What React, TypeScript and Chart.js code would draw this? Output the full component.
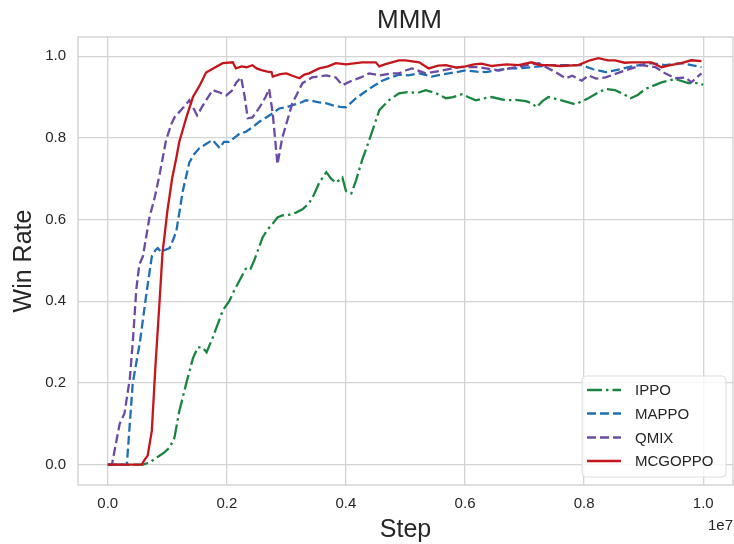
import React, { useEffect, useRef } from "react";
import { Chart, registerables } from "chart.js";

Chart.register(...registerables);

// Steps are in units of 1e7 (as displayed on the axis)
const ippoSteps = [0, 0.059, 0.07, 0.082, 0.095, 0.104, 0.112, 0.12, 0.132, 0.143, 0.151, 0.159, 0.166, 0.176, 0.185, 0.193, 0.204, 0.212, 0.221, 0.233, 0.24, 0.246, 0.26, 0.268, 0.277, 0.285, 0.293, 0.305, 0.316, 0.327, 0.338, 0.346, 0.355, 0.367, 0.375, 0.383, 0.394, 0.4, 0.409, 0.417, 0.427, 0.439, 0.456, 0.472, 0.489, 0.503, 0.52, 0.534, 0.55, 0.568, 0.58, 0.595, 0.605, 0.618, 0.632, 0.645, 0.668, 0.685, 0.702, 0.712, 0.72, 0.73, 0.74, 0.762, 0.785, 0.807, 0.82, 0.836, 0.852, 0.865, 0.878, 0.89, 0.903, 0.93, 0.953, 0.975, 0.992, 1.0];
const ippoWin = [0, 0, 0.005, 0.017, 0.03, 0.042, 0.066, 0.13, 0.2, 0.26, 0.287, 0.287, 0.275, 0.31, 0.345, 0.377, 0.4, 0.425, 0.45, 0.483, 0.48, 0.5, 0.556, 0.575, 0.59, 0.605, 0.61, 0.612, 0.617, 0.625, 0.64, 0.66, 0.69, 0.716, 0.7, 0.69, 0.703, 0.67, 0.664, 0.696, 0.745, 0.794, 0.868, 0.892, 0.909, 0.912, 0.91, 0.917, 0.91, 0.897, 0.9, 0.907, 0.9, 0.892, 0.897, 0.9, 0.892, 0.893, 0.89, 0.885, 0.875, 0.89, 0.9, 0.892, 0.882, 0.897, 0.908, 0.92, 0.917, 0.908, 0.897, 0.905, 0.92, 0.936, 0.944, 0.934, 0.934, 0.93];

const mappoSteps = [0, 0.032, 0.042, 0.054, 0.065, 0.074, 0.08, 0.084, 0.09, 0.095, 0.104, 0.115, 0.126, 0.137, 0.145, 0.154, 0.165, 0.176, 0.188, 0.195, 0.204, 0.221, 0.232, 0.243, 0.255, 0.266, 0.277, 0.288, 0.3, 0.31, 0.322, 0.333, 0.345, 0.355, 0.366, 0.377, 0.39, 0.4, 0.417, 0.439, 0.461, 0.475, 0.489, 0.505, 0.523, 0.544, 0.56, 0.573, 0.59, 0.601, 0.62, 0.635, 0.655, 0.673, 0.69, 0.712, 0.725, 0.74, 0.769, 0.796, 0.815, 0.836, 0.86, 0.88, 0.9, 0.913, 0.936, 0.963, 0.98, 0.997];
const mappoWin = [0, 0, 0.2, 0.3, 0.42, 0.51, 0.525, 0.53, 0.52, 0.525, 0.53, 0.57, 0.67, 0.74, 0.76, 0.775, 0.785, 0.795, 0.775, 0.79, 0.79, 0.81, 0.815, 0.826, 0.84, 0.85, 0.86, 0.872, 0.875, 0.88, 0.885, 0.892, 0.89, 0.887, 0.885, 0.88, 0.876, 0.875, 0.897, 0.92, 0.94, 0.948, 0.955, 0.953, 0.958, 0.95, 0.955, 0.958, 0.962, 0.965, 0.962, 0.961, 0.966, 0.97, 0.97, 0.973, 0.975, 0.978, 0.978, 0.978, 0.968, 0.961, 0.968, 0.975, 0.98, 0.983, 0.978, 0.983, 0.978, 0.973];

const qmixSteps = [0, 0.007, 0.02, 0.028, 0.037, 0.042, 0.048, 0.053, 0.059, 0.07, 0.079, 0.087, 0.098, 0.107, 0.112, 0.126, 0.137, 0.143, 0.15, 0.16, 0.176, 0.19, 0.199, 0.208, 0.216, 0.224, 0.23, 0.235, 0.243, 0.255, 0.265, 0.271, 0.277, 0.285, 0.293, 0.31, 0.327, 0.343, 0.367, 0.383, 0.394, 0.41, 0.425, 0.439, 0.456, 0.477, 0.489, 0.5, 0.511, 0.534, 0.561, 0.59, 0.623, 0.657, 0.685, 0.724, 0.74, 0.752, 0.769, 0.78, 0.796, 0.807, 0.82, 0.836, 0.869, 0.896, 0.92, 0.936, 0.953, 0.97, 0.98, 0.997];
const qmixWin = [0, 0, 0.1, 0.125, 0.21, 0.3, 0.43, 0.49, 0.51, 0.605, 0.655, 0.71, 0.795, 0.835, 0.85, 0.873, 0.892, 0.875, 0.855, 0.88, 0.917, 0.91, 0.904, 0.915, 0.936, 0.948, 0.9, 0.848, 0.85, 0.875, 0.9, 0.92, 0.86, 0.735, 0.8, 0.885, 0.934, 0.948, 0.953, 0.948, 0.929, 0.94, 0.948, 0.958, 0.953, 0.958, 0.958, 0.965, 0.97, 0.958, 0.965, 0.973, 0.973, 0.965, 0.973, 0.983, 0.97, 0.961, 0.946, 0.952, 0.94, 0.953, 0.945, 0.948, 0.965, 0.978, 0.973, 0.958, 0.946, 0.948, 0.936, 0.958];

const mcgoppoSteps = [0, 0.057, 0.062, 0.067, 0.074, 0.08, 0.087, 0.092, 0.095, 0.1, 0.108, 0.115, 0.12, 0.126, 0.132, 0.143, 0.155, 0.165, 0.177, 0.193, 0.21, 0.215, 0.225, 0.233, 0.243, 0.25, 0.258, 0.268, 0.275, 0.277, 0.29, 0.3, 0.31, 0.322, 0.33, 0.338, 0.355, 0.37, 0.383, 0.4, 0.427, 0.45, 0.456, 0.465, 0.477, 0.489, 0.5, 0.523, 0.539, 0.555, 0.568, 0.585, 0.601, 0.615, 0.628, 0.645, 0.657, 0.67, 0.69, 0.712, 0.725, 0.74, 0.76, 0.79, 0.81, 0.824, 0.84, 0.852, 0.868, 0.88, 0.898, 0.913, 0.93, 0.945, 0.963, 0.98, 0.997];
const mcgoppoWin = [0, 0, 0.012, 0.022, 0.083, 0.24, 0.4, 0.52, 0.556, 0.62, 0.7, 0.75, 0.79, 0.82, 0.85, 0.9, 0.93, 0.96, 0.97, 0.983, 0.985, 0.97, 0.975, 0.973, 0.978, 0.97, 0.966, 0.962, 0.961, 0.95, 0.956, 0.958, 0.952, 0.946, 0.955, 0.958, 0.97, 0.975, 0.983, 0.98, 0.985, 0.985, 0.975, 0.98, 0.985, 0.99, 0.99, 0.985, 0.97, 0.977, 0.978, 0.972, 0.975, 0.98, 0.982, 0.976, 0.978, 0.98, 0.978, 0.985, 0.978, 0.978, 0.976, 0.978, 0.99, 0.995, 0.99, 0.99, 0.984, 0.985, 0.985, 0.985, 0.973, 0.978, 0.983, 0.99, 0.988];

const xTickValues = [0, 0.2, 0.4, 0.6, 0.8, 1.0];
const yTickValues = [0, 0.2, 0.4, 0.6, 0.8, 1.0];

const chartTitle = "MMM";
const xTitle = "Step";
const yTitle = "Win Rate";
const xOffsetText = "1e7";

const FONT = "'Liberation Sans', Arial, sans-serif";
const TEXT = "#262626";

const zip = (xs: number[], ys: number[]) => xs.map((x, i) => ({ x, y: ys[i] }));

const decorPlugin = {
  id: "decor",
  beforeDatasetsDraw(chart: any) {
    const { ctx, chartArea } = chart;
    ctx.save();
    ctx.strokeStyle = "#cccccc";
    ctx.lineWidth = 1.25;
    ctx.strokeRect(chartArea.left, chartArea.top, chartArea.right - chartArea.left, chartArea.bottom - chartArea.top);
    ctx.restore();
  },
  afterDraw(chart: any) {
    const { ctx, chartArea } = chart;
    ctx.save();
    // Title
    ctx.fillStyle = TEXT;
    ctx.font = `26px ${FONT}`;
    ctx.textAlign = "center";
    ctx.textBaseline = "alphabetic";
    ctx.fillText(chartTitle, (chartArea.left + chartArea.right) / 2 + 4, 28);
    // Offset text
    ctx.font = `15px ${FONT}`;
    ctx.textAlign = "right";
    ctx.fillText(xOffsetText, 733, 530);

    // Legend
    const bx = 582, by = 376, bw = 144, bh = 101, r = 4;
    ctx.beginPath();
    ctx.moveTo(bx + r, by);
    ctx.lineTo(bx + bw - r, by);
    ctx.quadraticCurveTo(bx + bw, by, bx + bw, by + r);
    ctx.lineTo(bx + bw, by + bh - r);
    ctx.quadraticCurveTo(bx + bw, by + bh, bx + bw - r, by + bh);
    ctx.lineTo(bx + r, by + bh);
    ctx.quadraticCurveTo(bx, by + bh, bx, by + bh - r);
    ctx.lineTo(bx, by + r);
    ctx.quadraticCurveTo(bx, by, bx + r, by);
    ctx.closePath();
    ctx.fillStyle = "rgba(255,255,255,0.8)";
    ctx.fill();
    ctx.strokeStyle = "#dddddd";
    ctx.lineWidth = 1;
    ctx.stroke();

    const rows = [390, 413.5, 437.5, 461];
    chart.data.datasets.forEach((ds: any, i: number) => {
      const y = rows[i];
      ctx.beginPath();
      ctx.setLineDash(ds.borderDash || []);
      ctx.strokeStyle = ds.borderColor;
      ctx.lineWidth = ds.borderWidth;
      ctx.moveTo(587, y);
      ctx.lineTo(621, y);
      ctx.stroke();
      ctx.setLineDash([]);
      ctx.fillStyle = TEXT;
      ctx.font = `15px ${FONT}`;
      ctx.textAlign = "left";
      ctx.textBaseline = "middle";
      ctx.fillText(ds.label, 635, y + 1);
    });
    ctx.restore();
  },
};

export default function App() {
  const ref = useRef<HTMLCanvasElement | null>(null);
  useEffect(() => {
    if (!ref.current) return;
    const lw = 2.3;
    const chart = new Chart(ref.current, {
      type: "line",
      data: {
        datasets: [
          { label: "IPPO", data: zip(ippoSteps, ippoWin), borderColor: "#1a8540", borderDash: [15, 4, 2.5, 4], borderWidth: lw, pointRadius: 0, tension: 0, order: 3 },
          { label: "MAPPO", data: zip(mappoSteps, mappoWin), borderColor: "#1f6fb5", borderDash: [9, 4], borderWidth: lw, pointRadius: 0, tension: 0, order: 2 },
          { label: "QMIX", data: zip(qmixSteps, qmixWin), borderColor: "#6a4ba5", borderDash: [9, 4], borderWidth: lw, pointRadius: 0, tension: 0, order: 1 },
          { label: "MCGOPPO", data: zip(mcgoppoSteps, mcgoppoWin), borderColor: "#c4161c", borderWidth: lw, pointRadius: 0, tension: 0, order: 0 },
        ] as any,
      },
      options: {
        animation: false,
        responsive: false,
        devicePixelRatio: 1,
        layout: { padding: { top: 37, right: 1, left: 0, bottom: 0 } },
        plugins: { legend: { display: false }, tooltip: { enabled: false }, title: { display: false } },
        scales: {
          x: {
            type: "linear",
            min: -0.05,
            max: 1.05,
            afterBuildTicks: (scale: any) => { scale.ticks = xTickValues.map((v) => ({ value: v })); },
            afterFit: (scale: any) => { scale.height = 59; },
            grid: { color: "#d4d4d4", lineWidth: 1.3, drawTicks: false },
            border: { display: false },
            ticks: { color: TEXT, font: { family: FONT, size: 15 }, padding: 10, maxRotation: 0, callback: (v: any) => Number(v).toFixed(1) },
            title: { display: true, text: xTitle, color: TEXT, font: { family: FONT, size: 25, lineHeight: 1 }, padding: { top: 0, bottom: 1 } },
          },
          y: {
            type: "linear",
            min: -0.05,
            max: 1.047,
            afterBuildTicks: (scale: any) => { scale.ticks = yTickValues.map((v) => ({ value: v })); },
            afterFit: (scale: any) => { scale.width = 78; },
            grid: { color: "#d4d4d4", lineWidth: 1.3, drawTicks: false },
            border: { display: false },
            ticks: { color: TEXT, font: { family: FONT, size: 15 }, padding: 12, callback: (v: any) => Number(v).toFixed(1) },
            title: { display: true, text: yTitle, color: TEXT, font: { family: FONT, size: 25, lineHeight: 1 }, padding: { top: 12, bottom: 0 } },
          },
        },
      } as any,
      plugins: [decorPlugin],
    });
    return () => chart.destroy();
  }, []);
  return (
    <div style={{ position: "fixed", left: 0, top: 0, width: 734, height: 544, background: "#fff" }}>
      <canvas ref={ref} width={734} height={544} style={{ display: "block" }} />
    </div>
  );
}
